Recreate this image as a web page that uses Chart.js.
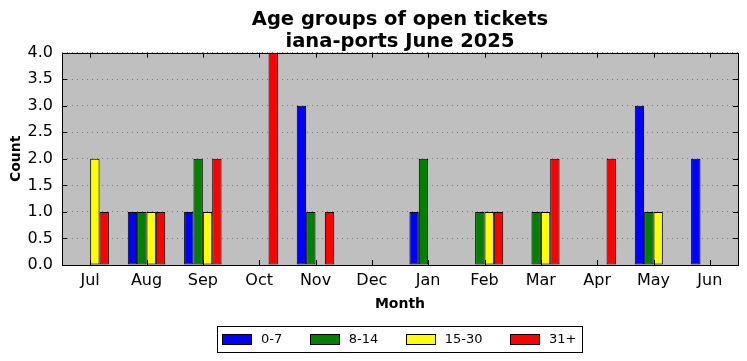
<!DOCTYPE html>
<html>
<head>
<meta charset="utf-8">
<script src="https://cdn.jsdelivr.net/npm/chart.js@4/dist/chart.umd.min.js"></script>
<style>
  html, body { margin: 0; padding: 0; background: #ffffff; }
  canvas { display: block; }
</style>
</head>
<body>
<canvas id="c" width="747" height="361"></canvas>
<script>
const months = ["Jul", "Aug", "Sep", "Oct", "Nov", "Dec", "Jan", "Feb", "Mar", "Apr", "May", "Jun"];
const age0to7   = [0, 1, 1, 0, 3, 0, 1, 0, 0, 0, 3, 2];
const age8to14  = [0, 1, 2, 0, 1, 0, 2, 1, 1, 0, 1, 0];
const age15to30 = [2, 1, 1, 0, 0, 0, 0, 1, 1, 0, 1, 0];
const age31plus = [1, 1, 2, 4, 1, 0, 0, 1, 2, 2, 0, 0];
const seriesLabels = ["0-7", "8-14", "15-30", "31+"];
const seriesColors = ["#0000ff", "#008000", "#ffff00", "#ff0000"];
const titleLines = ["Age groups of open tickets", "iana-ports June 2025"];
const xTitle = "Month";
const yTitle = "Count";

const FONT = "'DejaVu Sans', 'Liberation Sans', sans-serif";
Chart.defaults.font.family = FONT;
Chart.defaults.color = "#000000";

const seriesValues = [age0to7, age8to14, age15to30, age31plus];

const framePlugin = {
  id: "frame",
  beforeDraw(chart) {
    const a = chart.chartArea, ctx = chart.ctx;
    ctx.save();
    ctx.fillStyle = "#bfbfbf";
    ctx.fillRect(a.left, a.top, a.right - a.left, a.bottom - a.top);
    ctx.restore();
  },
  afterDatasetsDraw(chart) {
    const a = chart.chartArea, ctx = chart.ctx;
    const xs = chart.scales.x, ys = chart.scales.y;
    ctx.save();
    ctx.strokeStyle = "#000000";
    ctx.lineWidth = 1;
    ctx.beginPath();
    const tl = 5;
    xs.ticks.forEach((t, i) => {
      const x = Math.round(xs.getPixelForTick(i)) + 0.5;
      ctx.moveTo(x, a.bottom); ctx.lineTo(x, a.bottom - tl);
      ctx.moveTo(x, a.top); ctx.lineTo(x, a.top + tl);
    });
    ys.ticks.forEach((t, i) => {
      const y = Math.round(ys.getPixelForTick(i)) + 0.5;
      ctx.moveTo(a.left, y); ctx.lineTo(a.left + tl, y);
      ctx.moveTo(a.right, y); ctx.lineTo(a.right - tl, y);
    });
    ctx.stroke();
    ctx.strokeRect(Math.round(a.left) + 0.5, Math.round(a.top) + 0.5,
                   Math.round(a.right - a.left), Math.round(a.bottom - a.top));
    ctx.restore();
  },
  afterDraw(chart) {
    // legend box, matplotlib style
    const ctx = chart.ctx, a = chart.chartArea;
    ctx.save();
    ctx.font = "13px " + FONT;
    const patchW = 29, patchH = 10, textGap = 10, itemGap = 27.5, padL = 5, padR = 6;
    const items = chart.data.datasets.map(d => ({
      label: d.label, color: d.backgroundColor, w: ctx.measureText(d.label).width
    }));
    let total = padL + padR;
    items.forEach((it, i) => { total += patchW + textGap + it.w + (i ? itemGap : 0); });
    const cx = (a.left + a.right) / 2;
    let x = Math.round(cx - total / 2);
    const top = 326, h = 26, cy = top + h / 2;
    ctx.fillStyle = "#ffffff";
    ctx.fillRect(x, top, total, h);
    ctx.strokeStyle = "#000000";
    ctx.lineWidth = 1;
    ctx.strokeRect(x + 0.5, top + 0.5, Math.round(total), h);
    let px = x + padL;
    ctx.textBaseline = "middle";
    ctx.textAlign = "left";
    items.forEach((it, i) => {
      if (i) px += itemGap;
      ctx.fillStyle = it.color;
      ctx.fillRect(Math.round(px), cy - patchH / 2, patchW, patchH);
      ctx.strokeStyle = "#000000";
      ctx.strokeRect(Math.round(px) + 0.5, cy - patchH / 2 + 0.5, patchW, patchH);
      px += patchW + textGap;
      ctx.fillStyle = "#000000";
      ctx.fillText(it.label, px, cy + 1);
      px += it.w;
    });
    ctx.restore();
  }
};

new Chart(document.getElementById("c"), {
  type: "bar",
  data: {
    labels: months,
    datasets: seriesLabels.map((lab, i) => ({
      label: lab,
      data: seriesValues[i],
      backgroundColor: seriesColors[i],
      borderColor: "#000000",
      borderWidth: 1,
      borderSkipped: false,
      categoryPercentage: 0.665,
      barPercentage: 1.0
    }))
  },
  options: {
    responsive: false,
    animation: false,
    devicePixelRatio: 1,
    layout: { padding: { left: 0, right: 9, top: 0, bottom: 48 } },
    plugins: {
      legend: { display: false },
      tooltip: { enabled: false },
      title: {
        display: true,
        fullSize: false,
        text: titleLines,
        color: "#000000",
        font: { size: 19.5, weight: "bold", family: FONT, lineHeight: 1.12 },
        padding: { top: 9, bottom: 0 }
      }
    },
    scales: {
      x: {
        offset: true,
        grid: { display: false, drawTicks: false },
        border: { display: false },
        ticks: { font: { size: 16 }, color: "#000000", padding: 6, maxRotation: 0 },
        title: { display: true, text: xTitle, font: { size: 14, weight: "bold" }, color: "#000000", padding: { top: 0, bottom: 0 } },
        afterFit(s) { s.height = 48; }
      },
      y: {
        min: 0,
        max: 4,
        grid: { display: true, drawTicks: false, color: "#7a7a7a", lineWidth: 1 },
        border: { display: false, dash: [1, 4] },
        ticks: { stepSize: 0.5, font: { size: 16 }, color: "#000000", padding: 9,
                 callback: v => Number(v).toFixed(1) },
        title: { display: true, text: yTitle, font: { size: 14, weight: "bold" }, color: "#000000", padding: { top: 8, bottom: 0 } },
        afterFit(s) { s.width = 62; }
      }
    }
  },
  plugins: [framePlugin]
});
</script>
</body>
</html>
